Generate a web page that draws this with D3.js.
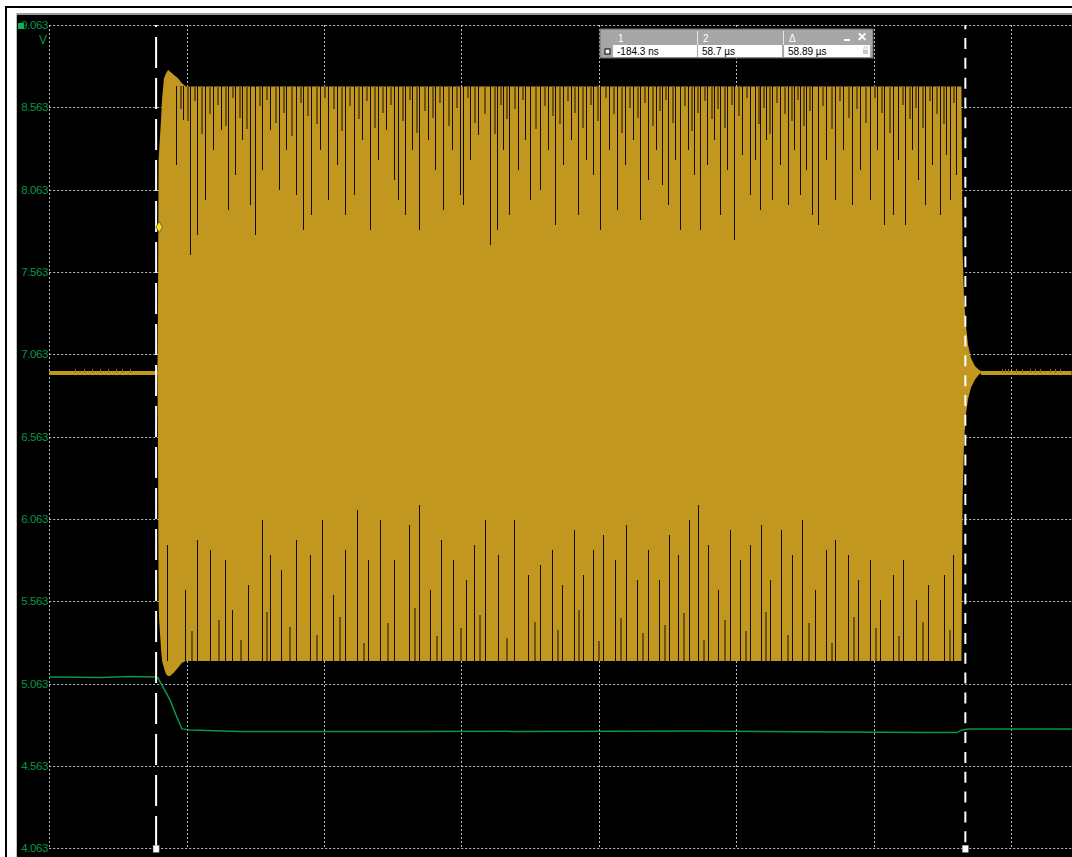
<!DOCTYPE html>
<html>
<head>
<meta charset="utf-8">
<script src="https://cdn.jsdelivr.net/npm/d3@7"></script>
<style>
  html, body { margin: 0; padding: 0; background: #ffffff; }
  svg { display: block; }
</style>
</head>
<body>
<svg id="scope" width="1072" height="857"></svg>
<script>
// ---- axis values ----
const voltTicks = [4.063, 4.563, 5.063, 5.563, 6.063, 6.563, 7.063, 7.563, 8.063, 8.563, 9.063];
const timeGrid = [-8, 2, 12, 22, 32, 42, 52, 62];          // µs, 10 µs / div
const cursorTimes = [-0.1843, 58.7];                        // µs
const readoutHeads = ["1", "2", "Δ"];
const readoutValues = ["-184.3 ns", "58.7 µs", "58.89 µs"];

// ---- channel 1 (yellow): idle level and burst envelope ----
const ch1Idle = 6.950;
const envTime = [-0.12, -0.08, -0.04, 0.0, 0.14, 0.21, 0.35, 0.50, 0.65, 0.79, 1.08, 1.37, 1.66, 1.95, 2.10, 58.38, 58.46, 58.57, 58.71, 58.86, 59.07, 59.37, 59.66, 59.80];
const envHigh = [6.96, 7.39, 8.24, 8.30, 8.49, 8.61, 8.74, 8.77, 8.79, 8.78, 8.76, 8.74, 8.71, 8.69, 8.69, 8.69, 7.70, 7.39, 7.24, 7.12, 7.04, 6.99, 6.97, 6.96];
const envLow  = [6.94, 6.48, 5.57, 5.45, 5.27, 5.20, 5.16, 5.12, 5.11, 5.11, 5.13, 5.16, 5.19, 5.20, 5.20, 5.20, 6.18, 6.54, 6.70, 6.79, 6.86, 6.91, 6.94, 6.95];
const crossMarker = { t: 0.0, v: 7.836 };

// peaks that fall well short of the upper envelope (time µs, peak V)
const upperDipTime = [1.23, 1.74, 2.25, 2.76, 3.34, 3.92, 4.51, 5.01, 5.52, 6.03, 6.61, 6.98, 7.48, 8.07, 8.72, 9.23, 9.96, 10.47, 11.05, 11.71, 12.29, 12.94, 13.52, 14.18, 14.76, 15.34, 15.92, 16.51, 17.09, 17.38, 17.89, 18.40, 18.91, 19.57, 20.08, 20.66, 21.31, 21.90, 22.11, 22.62, 23.20, 24.08, 24.58, 25.02, 25.46, 26.11, 26.62, 26.98, 27.71, 28.29, 28.80, 29.38, 29.97, 30.47, 31.06, 31.57, 32.08, 32.73, 33.31, 33.90, 34.48, 34.99, 35.57, 36.15, 36.59, 37.03, 37.54, 37.90, 38.48, 38.92, 39.36, 39.87, 40.38, 40.81, 41.32, 41.83, 42.41, 42.99, 43.36, 43.72, 44.16, 44.60, 45.18, 45.76, 46.20, 46.63, 47.07, 47.51, 47.94, 48.53, 49.18, 49.76, 50.42, 51.00, 51.73, 52.24, 52.75, 53.40, 53.76, 54.27, 54.78, 55.22, 55.73, 56.24, 56.82, 57.26, 57.55, 57.99];
const upperDipVolt = [8.213, 8.486, 7.666, 7.788, 8.000, 8.304, 8.425, 7.939, 8.152, 8.365, 7.970, 7.788, 8.182, 8.425, 8.061, 8.304, 8.031, 7.818, 7.909, 8.304, 8.000, 8.213, 7.909, 8.031, 8.365, 7.818, 8.243, 8.425, 8.122, 8.000, 7.909, 8.304, 7.818, 8.365, 8.182, 7.939, 8.304, 8.031, 7.970, 8.243, 8.395, 7.727, 7.818, 8.304, 7.909, 8.182, 8.365, 8.000, 8.061, 8.304, 7.848, 8.213, 8.365, 7.909, 8.243, 8.152, 7.818, 8.304, 7.939, 8.213, 8.365, 7.879, 8.122, 8.304, 8.091, 7.970, 8.243, 7.818, 8.304, 8.152, 7.818, 8.213, 8.365, 7.909, 8.182, 7.757, 8.274, 8.031, 8.243, 7.939, 8.365, 8.000, 8.213, 7.970, 8.304, 8.031, 8.182, 7.909, 7.848, 8.243, 8.000, 8.304, 7.970, 8.182, 8.000, 8.304, 7.848, 7.909, 8.243, 7.848, 8.304, 8.122, 7.970, 8.213, 7.909, 8.274, 8.000, 8.152];
// shallower misses between them
const upperNotchTime = [1.49, 2.00, 2.51, 3.05, 3.63, 4.22, 4.76, 5.27, 5.78, 6.32, 7.23, 7.78, 8.40, 8.98, 9.60, 10.22, 10.76, 11.38, 12.00, 12.62, 13.23, 13.85, 14.47, 15.05, 15.63, 16.22, 16.80, 17.64, 18.15, 18.66, 19.24, 19.83, 20.37, 20.99, 21.60, 22.37, 22.91, 23.64, 24.33, 24.80, 25.24, 25.79, 26.37, 27.35, 28.00, 28.55, 29.09, 29.68, 30.22, 30.77, 31.32, 31.83, 32.41, 33.02, 33.61, 34.19, 34.74, 35.28, 35.86, 36.37, 36.81, 37.29, 38.19, 38.70, 39.14, 39.62, 40.13, 40.60, 41.07, 41.58, 42.12, 42.70, 43.54, 43.94, 44.38, 44.89, 45.47, 45.98, 46.42, 46.85, 47.29, 48.24, 48.86, 49.47, 50.09, 50.71, 51.37, 51.99, 52.50, 53.08, 54.03, 54.53, 55.00, 55.48, 55.99, 56.53, 57.04, 57.77];
const upperNotchVolt = [8.55, 8.48, 8.60, 8.40, 8.52, 8.58, 8.45, 8.62, 8.50, 8.43, 8.57, 8.61, 8.47, 8.53, 8.39, 8.59, 8.51, 8.46, 8.62, 8.55, 8.42, 8.57, 8.49, 8.60, 8.44, 8.53, 8.58, 8.48, 8.61, 8.41, 8.54, 8.50, 8.59, 8.45, 8.56, 8.62, 8.47, 8.52, 8.40, 8.58, 8.49, 8.55, 8.61, 8.43, 8.57, 8.51, 8.46, 8.60, 8.53, 8.44, 8.58, 8.48, 8.62, 8.52, 8.41, 8.56, 8.50, 8.59, 8.45, 8.54, 8.61, 8.47, 8.57, 8.42, 8.53, 8.60, 8.49, 8.55, 8.44, 8.58, 8.51, 8.62, 8.46, 8.56, 8.40, 8.59, 8.52, 8.48, 8.61, 8.45, 8.54, 8.57, 8.43, 8.60, 8.50, 8.55, 8.47, 8.62, 8.53, 8.41, 8.58, 8.49, 8.56, 8.44, 8.60, 8.52, 8.46, 8.59];

// troughs that fall well short of the lower envelope (time µs, trough V)
const lowerDipTime = [0.57, 1.88, 2.76, 3.70, 4.79, 5.30, 6.46, 7.48, 8.07, 8.87, 9.96, 10.98, 11.85, 12.65, 13.52, 14.40, 15.20, 16.07, 17.09, 18.18, 18.91, 19.71, 20.51, 21.38, 22.33, 22.91, 23.71, 24.65, 25.82, 26.84, 27.71, 28.58, 29.31, 30.18, 30.84, 31.57, 32.29, 33.17, 33.97, 34.77, 35.57, 36.37, 37.10, 37.75, 38.55, 39.21, 39.93, 40.66, 41.54, 42.26, 42.99, 43.79, 44.45, 45.25, 46.05, 46.78, 47.72, 48.53, 49.18, 50.13, 50.85, 51.73, 52.45, 53.40, 54.12, 55.07, 55.94, 57.11, 57.76];
const lowerDipVolt = [5.905, 5.632, 5.935, 5.875, 5.814, 5.510, 5.662, 6.057, 5.844, 5.753, 5.935, 5.844, 6.057, 5.601, 5.875, 6.118, 5.814, 6.057, 5.814, 6.027, 6.148, 5.632, 5.935, 5.814, 5.692, 5.905, 6.057, 5.844, 6.057, 5.723, 5.784, 5.875, 5.662, 5.996, 5.723, 5.875, 5.966, 5.814, 6.027, 5.692, 5.875, 5.692, 5.966, 5.844, 6.057, 6.148, 5.905, 5.632, 5.996, 5.814, 5.905, 6.027, 5.692, 5.996, 5.844, 6.057, 5.632, 5.875, 5.935, 5.844, 5.692, 5.814, 5.571, 5.723, 5.814, 5.571, 5.662, 5.723, 5.844];
const lowerNotchTime = [2.32, 4.25, 5.88, 7.78, 9.42, 11.42, 13.09, 14.80, 16.58, 18.55, 20.11, 21.86, 23.31, 25.24, 27.28, 28.95, 30.51, 31.93, 33.57, 35.17, 36.74, 38.15, 39.57, 41.10, 42.63, 44.12, 45.65, 47.25, 48.86, 50.49, 52.09, 53.76, 55.51, 57.44];
const lowerNotchVolt = [5.38, 5.45, 5.33, 5.50, 5.41, 5.36, 5.47, 5.31, 5.43, 5.52, 5.35, 5.40, 5.48, 5.34, 5.44, 5.39, 5.51, 5.32, 5.46, 5.37, 5.42, 5.49, 5.33, 5.45, 5.38, 5.50, 5.36, 5.43, 5.31, 5.47, 5.40, 5.35, 5.44, 5.39];

// small glitches on the idle level
const idleBlipTime = [-6.11, -5.47, -4.88, -4.30, -3.72, -3.14, -2.70, -2.12, 61.33, 61.55, 61.77, 62.35, 62.79, 63.37, 63.74, 64.10, 64.83, 65.19, 65.56];
const idleBlipVolt = 6.975;

// ---- channel 2 (green) ----
const ch2Time = [-8.01, -4.3, -2.1, -0.20, -0.08, 0.79, 1.23, 1.66, 2.25, 5.89, 17.5, 39.4, 55.7, 58.05, 58.42, 58.86, 66.4];
const ch2Volt = [5.103, 5.100, 5.106, 5.103, 5.097, 4.964, 4.872, 4.788, 4.782, 4.772, 4.772, 4.775, 4.766, 4.766, 4.782, 4.788, 4.788];

// ---- drawing ----
const svg = d3.select("#scope");
const W = 1072, H = 857;
const gold = "#c1971f";
const green = "#0a9448";
const gridCol = "#a9c4d2";

const x = d3.scaleLinear().domain([-8, 62]).range([49.2, 1011.2]);
const y = d3.scaleLinear().domain([4.063, 9.063]).range([848.3, 25]);
const px = t => Math.round(x(t)) + 0.5;   // pixel-aligned column

// page frame
svg.append("rect").attr("x", 0).attr("y", 0).attr("width", W).attr("height", H).attr("fill", "#ffffff");
svg.append("rect").attr("x", 5).attr("y", 6).attr("width", W - 5).attr("height", 2).attr("fill", "#000");
svg.append("rect").attr("x", 5).attr("y", 6).attr("width", 2).attr("height", H - 6).attr("fill", "#000");
// scope panel
svg.append("rect").attr("x", 16).attr("y", 13).attr("width", W - 16).attr("height", H - 13).attr("fill", "#000");
svg.append("rect").attr("x", 16).attr("y", 13).attr("width", W - 16).attr("height", 2).attr("fill", "#9c9c9c");
svg.append("rect").attr("x", 16).attr("y", 13).attr("width", 1).attr("height", H - 13).attr("fill", "#bdbdbd");

// grid
const grid = svg.append("g");
grid.selectAll("line.h").data(voltTicks).join("line")
  .attr("x1", x(-8)).attr("x2", W)
  .attr("y1", d => Math.round(y(d)) + 0.5).attr("y2", d => Math.round(y(d)) + 0.5)
  .attr("stroke", gridCol).attr("stroke-width", 1).attr("stroke-dasharray", "2,2");
grid.selectAll("line.v").data(timeGrid).join("line")
  .attr("x1", d => px(d)).attr("x2", d => px(d))
  .attr("y1", y(9.063)).attr("y2", y(4.063))
  .attr("stroke", gridCol).attr("stroke-width", 1).attr("stroke-dasharray", "2,2");

// volt labels
const labelFont = "'Liberation Sans', Arial, sans-serif";
svg.append("g").selectAll("text").data(voltTicks).join("text")
  .attr("x", 48).attr("y", d => y(d) + 4)
  .attr("text-anchor", "end")
  .attr("font-family", labelFont).attr("font-size", 11.5).attr("letter-spacing", -0.4)
  .attr("fill", green)
  .text(d => d3.format(".3f")(d));
svg.append("text").attr("x", 47).attr("y", y(9.063) + 19).attr("text-anchor", "end")
  .attr("font-family", labelFont).attr("font-size", 12).attr("fill", green).text("V");
svg.append("rect").attr("x", 18).attr("y", 23).attr("width", 6).attr("height", 6).attr("fill", "#10b050");

// channel 1 idle level
const idleSegs = [[x.domain()[0], envTime[0]], [envTime[envTime.length - 1], 66.4]];
svg.append("g").selectAll("line").data(idleSegs).join("line")
  .attr("x1", d => x(d[0])).attr("x2", d => x(d[1]))
  .attr("y1", y(ch1Idle)).attr("y2", y(ch1Idle))
  .attr("stroke", gold).attr("stroke-width", 4);
svg.append("g").selectAll("line").data(idleBlipTime).join("line")
  .attr("x1", d => px(d)).attr("x2", d => px(d))
  .attr("y1", y(ch1Idle)).attr("y2", y(idleBlipVolt))
  .attr("stroke", "#8a6c14").attr("stroke-width", 1);

// channel 1 burst envelope
const env = envTime.map((t, i) => ({ t, hi: envHigh[i], lo: envLow[i] }));
svg.append("path").datum(env)
  .attr("d", d3.area().x(d => x(d.t)).y0(d => y(d.lo)).y1(d => y(d.hi)))
  .attr("fill", gold);

// peaks / troughs falling short of the envelope
const yUpper = y(8.69), yLower = y(5.20);
function dips(times, volts, from, color, width) {
  svg.append("g").attr("shape-rendering", "crispEdges")
    .selectAll("line").data(times).join("line")
    .attr("x1", d => px(d)).attr("x2", d => px(d))
    .attr("y1", from).attr("y2", (d, i) => y(volts[i]))
    .attr("stroke", color).attr("stroke-width", width);
}
dips(upperNotchTime, upperNotchVolt, yUpper, "#6d5415", 2);
dips(lowerNotchTime, lowerNotchVolt, yLower, "#6d5415", 2);
dips(upperDipTime, upperDipVolt, yUpper, "#120d00", 1);
dips(lowerDipTime, lowerDipVolt, yLower, "#120d00", 1);

// channel 2
svg.append("path").datum(ch2Time.map((t, i) => [t, ch2Volt[i]]))
  .attr("d", d3.line().x(d => x(d[0])).y(d => y(d[1])))
  .attr("fill", "none").attr("stroke", green).attr("stroke-width", 1.5);

// cursors
const dashes = [{ dash: "31,10", off: 29 }, { dash: "11,8.83", off: 6.8 }];
cursorTimes.forEach((t, i) => {
  const cx = x(t) - 0.5;
  svg.append("line").attr("x1", cx).attr("x2", cx)
    .attr("y1", y(9.063)).attr("y2", y(4.063))
    .attr("stroke", "#ffffff").attr("stroke-width", 2)
    .attr("stroke-dasharray", dashes[i].dash).attr("stroke-dashoffset", dashes[i].off);
  svg.append("rect").attr("x", cx - 3).attr("y", y(4.063) - 3).attr("width", 6).attr("height", 7)
    .attr("fill", "#ffffff").attr("stroke", "#888").attr("stroke-width", 0.5);
});

// trigger-crossing marker
svg.append("path")
  .attr("d", d3.symbol().type(d3.symbolDiamond).size(36)())
  .attr("transform", `translate(${x(crossMarker.t)},${y(crossMarker.v)})`)
  .attr("fill", "#ffe600").attr("stroke", "#4a4a90").attr("stroke-width", 0.8);

// cursor readout box
const box = svg.append("g").attr("transform", "translate(600,29)");
const boxW = 273;
box.append("rect").attr("width", boxW).attr("height", 29).attr("fill", "#a6a6a6").attr("stroke", "#6b6b6b").attr("stroke-width", 1);
const colX = [13, 98, 184];
const colW = [84, 84, 86];
colX.forEach((cx, i) => {
  box.append("rect").attr("x", cx).attr("y", 16).attr("width", colW[i]).attr("height", 12).attr("fill", "#ffffff");
  if (i > 0) box.append("line").attr("x1", cx - 0.5).attr("x2", cx - 0.5).attr("y1", 2).attr("y2", 16)
    .attr("stroke", "#e6e6e6").attr("stroke-width", 1);
  box.append("text").attr("x", cx + 5).attr("y", 13).attr("font-family", "'Liberation Sans', Arial, sans-serif")
    .attr("font-size", 10).attr("fill", "#ffffff").text(readoutHeads[i]);
  box.append("text").attr("x", cx + 4).attr("y", 26).attr("font-family", "'Liberation Sans', Arial, sans-serif")
    .attr("font-size", 10).attr("fill", "#000").text(readoutValues[i]);
});
box.append("rect").attr("x", 5).attr("y", 20).attr("width", 5).attr("height", 5).attr("fill", "#fff").attr("stroke", "#000").attr("stroke-width", 1);
box.append("rect").attr("x", 244).attr("y", 10).attr("width", 6).attr("height", 2).attr("fill", "#fff");
box.append("text").attr("x", 257).attr("y", 12).attr("font-family", "'Liberation Sans', Arial, sans-serif")
  .attr("font-size", 12).attr("font-weight", "bold").attr("fill", "#fff").text("✕");
// padlock
box.append("rect").attr("x", 263).attr("y", 21).attr("width", 5).attr("height", 4).attr("fill", "#c8c8c8");
box.append("path").attr("d", "M264,21 v-2 a1.5,1.5 0 0 1 3,0 v2").attr("fill", "none").attr("stroke", "#c8c8c8").attr("stroke-width", 1);
</script>
</body>
</html>
